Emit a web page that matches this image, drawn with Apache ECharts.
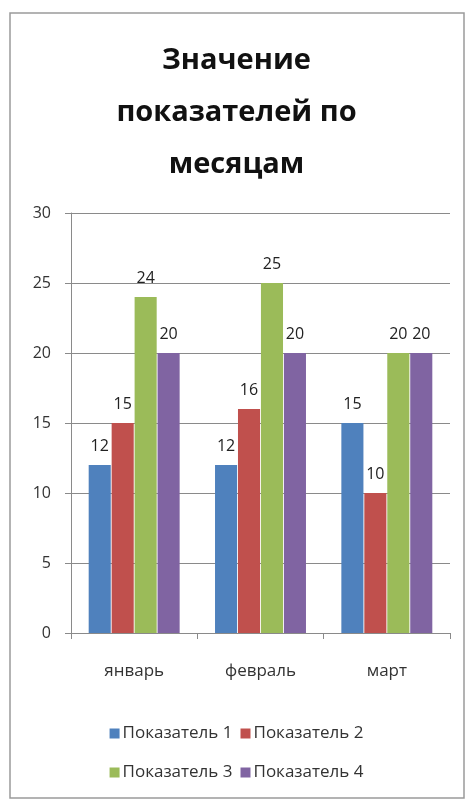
<!DOCTYPE html>
<html>
<head>
<meta charset="utf-8">
<script src="https://cdn.jsdelivr.net/npm/echarts@6/dist/echarts.min.js"></script>
<style>
  html, body { margin: 0; padding: 0; background: #fff; }
  #chart { width: 473px; height: 801px; }
</style>
</head>
<body>
<div id="chart"></div>
<script>
// данные
const months = ['январь', 'февраль', 'март']
const seriesNames = ['Показатель 1', 'Показатель 2', 'Показатель 3', 'Показатель 4']
const values1 = [12, 12, 15]
const values2 = [15, 16, 10]
const values3 = [24, 25, 20]
const values4 = [20, 20, 20]
const colors = ['#4F81BD', '#C0504D', '#9BBB59', '#8064A2']

const font = '"Open Sans", "Noto Sans", sans-serif'
const chart = echarts.init(document.getElementById('chart'))

const makeBar = (name, data, color) => ({
  name: name,
  type: 'bar',
  data: data,
  barGap: '4%',
  barCategoryGap: '28%',
  itemStyle: { color: color },
  label: {
    show: true,
    position: 'top',
    distance: 11,
    color: '#222',
    fontSize: 16,
    fontFamily: font
  }
})

const legendText = { fontFamily: font, fontSize: 17, color: '#333', padding: [0, 0, 0, -2] }

const option = {
  backgroundColor: '#fff',
  animation: false,
  color: colors,
  graphic: [
    {
      type: 'rect',
      shape: { x: 10, y: 13, width: 454, height: 785 },
      style: { fill: 'none', stroke: '#9a9a9a', lineWidth: 1.5 }
    }
  ],
  title: {
    text: 'Значение\nпоказателей по\nмесяцам',
    left: 'center',
    top: 30,
    textStyle: {
      fontFamily: font,
      fontSize: 29,
      fontWeight: 'bold',
      color: '#111',
      lineHeight: 52
    }
  },
  legend: [
    {
      data: seriesNames.slice(0, 2),
      top: 720,
      left: 'center',
      itemWidth: 10,
      itemHeight: 10,
      itemGap: 8,
      icon: 'rect',
      textStyle: legendText
    },
    {
      data: seriesNames.slice(2, 4),
      top: 759,
      left: 'center',
      itemWidth: 10,
      itemHeight: 10,
      itemGap: 8,
      icon: 'rect',
      textStyle: legendText
    }
  ],
  grid: {
    left: 71,
    right: 23,
    top: 213,
    height: 420,
    containLabel: false
  },
  xAxis: {
    type: 'category',
    data: months,
    axisLine: { lineStyle: { color: '#8a8a8a', width: 1 } },
    axisTick: { show: true, length: 6, lineStyle: { color: '#8a8a8a' } },
    axisLabel: {
      margin: 30,
      fontSize: 17,
      fontFamily: font,
      color: '#333'
    }
  },
  yAxis: {
    type: 'value',
    min: 0,
    max: 30,
    interval: 5,
    axisLine: { show: true, lineStyle: { color: '#8a8a8a', width: 1 } },
    axisTick: { show: true, length: 6, lineStyle: { color: '#8a8a8a' } },
    axisLabel: {
      margin: 20,
      fontSize: 16,
      fontFamily: font,
      color: '#333'
    },
    splitLine: { lineStyle: { color: '#8a8a8a', width: 1 } }
  },
  series: [
    makeBar(seriesNames[0], values1, colors[0]),
    makeBar(seriesNames[1], values2, colors[1]),
    makeBar(seriesNames[2], values3, colors[2]),
    makeBar(seriesNames[3], values4, colors[3])
  ]
}

chart.setOption(option)
</script>
</body>
</html>
